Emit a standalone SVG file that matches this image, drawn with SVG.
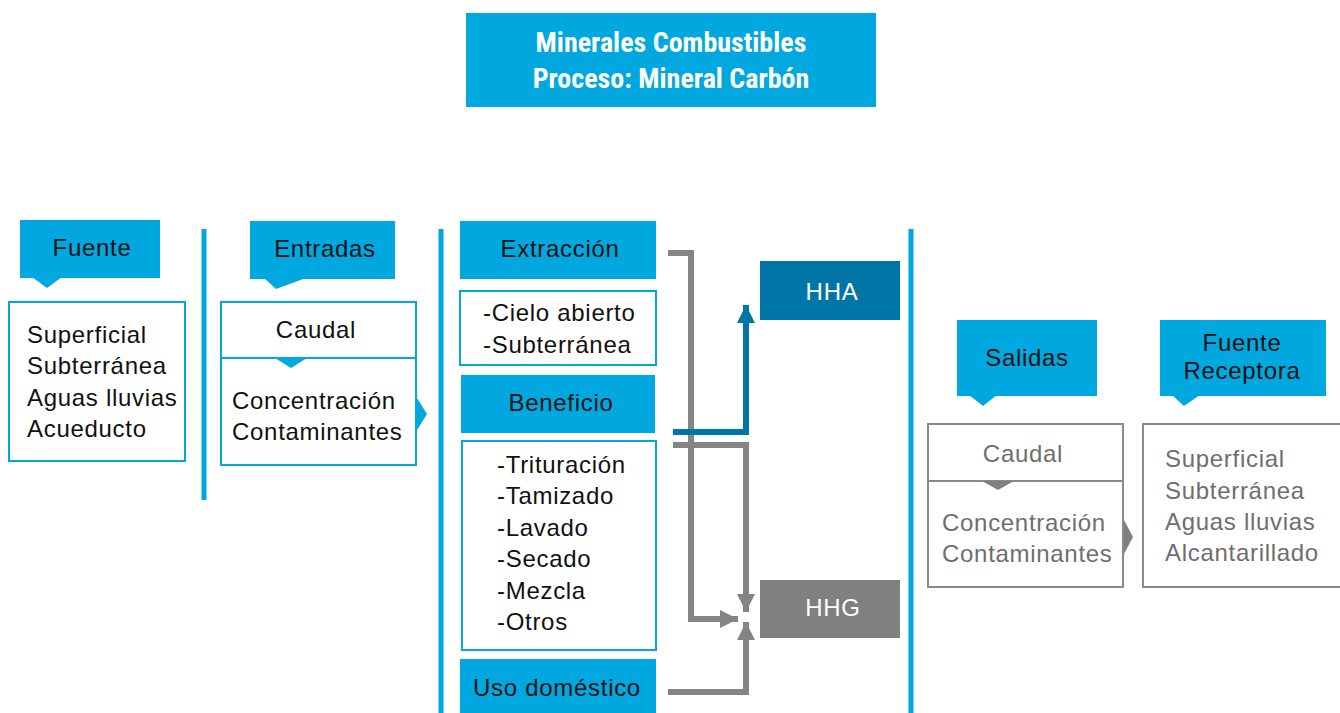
<svg xmlns="http://www.w3.org/2000/svg" width="1340" height="713" viewBox="0 0 1340 713">
<style>
.tab{fill:#00a8df}
.t{font-family:"Liberation Sans",Arial,sans-serif;font-size:24px;fill:#111;letter-spacing:0.7px}
.tc{text-anchor:middle}
.w{fill:#fff}
.g{fill:#6e6e6e}
.bx{fill:#fff;stroke:#00a8df;stroke-width:2}
.gx{fill:#fff;stroke:#8a8a8a;stroke-width:2}
.vl{stroke:#00a8df;stroke-width:5}
.cg{fill:none;stroke:#848484;stroke-width:6}
.cb{fill:none;stroke:#0076a8;stroke-width:6}
.title{font-family:"Liberation Sans Narrow","Roboto Condensed","Liberation Sans",sans-serif;font-weight:bold;font-size:28px;fill:#fff;text-anchor:middle}
</style>
<defs>
<marker id="ag" viewBox="0 0 10 10" refX="10" refY="5" markerWidth="3" markerHeight="3" orient="auto" markerUnits="strokeWidth"><path d="M0,0 L10,5 L0,10 z" fill="#848484"/></marker>
<marker id="ab" viewBox="0 0 10 10" refX="10" refY="5" markerWidth="3" markerHeight="3" orient="auto" markerUnits="strokeWidth"><path d="M0,0 L10,5 L0,10 z" fill="#0076a8"/></marker>
</defs>
<rect width="1340" height="713" fill="#fff"/>

<g id="title">
<rect x="466" y="13" width="410" height="94" class="tab"/>
<text x="671" y="52" class="title">Minerales Combustibles</text>
<text x="671" y="88" class="title">Proceso: Mineral Carbón</text>
</g>

<g id="dividers">
<line x1="204" y1="229" x2="204" y2="500" class="vl"/>
<line x1="441" y1="229" x2="441" y2="713" class="vl"/>
<line x1="911" y1="229" x2="911" y2="713" class="vl"/>
</g>

<g id="fuente-tab">
<rect x="20" y="220" width="140" height="58" class="tab"/>
<path d="M32,277 L62,277 L47,288 z" class="tab"/>
<text x="92" y="256" class="t tc">Fuente</text>
</g>
<g id="fuente-box">
<rect x="9" y="302" width="176" height="159" class="bx"/>
<text x="27" y="343" class="t">Superficial</text>
<text x="27" y="374" class="t">Subterránea</text>
<text x="27" y="406" class="t">Aguas lluvias</text>
<text x="27" y="437" class="t">Acueducto</text>
</g>

<g id="entradas-tab">
<rect x="250" y="221" width="145" height="58" class="tab"/>
<path d="M264,278 L306,278 L276,289 z" class="tab"/>
<text x="325" y="257" class="t tc">Entradas</text>
</g>
<g id="entradas-box">
<rect x="221" y="302" width="195" height="163" class="bx"/>
<line x1="221" y1="358" x2="416" y2="358" stroke="#00a8df" stroke-width="2"/>
<path d="M275,358 L307,358 L291,368 z" class="tab"/>
<path d="M417,398 L427,414 L417,430 z" class="tab"/>
<text x="316" y="338" class="t tc">Caudal</text>
<text x="232" y="409" class="t">Concentración</text>
<text x="232" y="440" class="t">Contaminantes</text>
</g>

<g id="extraccion">
<rect x="460" y="221" width="196" height="58" class="tab"/>
<text x="560" y="257" class="t tc">Extracción</text>
</g>
<g id="extraccion-list">
<rect x="460" y="291" width="196" height="74" class="bx"/>
<text x="483" y="321" class="t">-Cielo abierto</text>
<text x="483" y="353" class="t">-Subterránea</text>
</g>
<g id="beneficio">
<rect x="461" y="375" width="194" height="58" class="tab"/>
<text x="561" y="411" class="t tc">Beneficio</text>
</g>
<g id="beneficio-list">
<rect x="462" y="441" width="194" height="209" class="bx"/>
<text x="497" y="473" class="t">-Trituración</text>
<text x="497" y="504" class="t">-Tamizado</text>
<text x="497" y="536" class="t">-Lavado</text>
<text x="497" y="567" class="t">-Secado</text>
<text x="497" y="599" class="t">-Mezcla</text>
<text x="497" y="630" class="t">-Otros</text>
</g>
<g id="uso-domestico">
<rect x="460" y="659" width="196" height="54" class="tab"/>
<text x="557" y="696" class="t tc">Uso doméstico</text>
</g>

<g id="hha">
<rect x="760" y="261" width="140" height="59" fill="#0076a8"/>
<text x="832" y="300" class="t tc w">HHA</text>
</g>
<g id="hhg">
<rect x="760" y="580" width="140" height="58" fill="#808080"/>
<text x="833" y="616" class="t tc w">HHG</text>
</g>

<g id="connectors">
<path d="M668,253 L691,253 L691,619 L738,619" class="cg" marker-end="url(#ag)"/>
<path d="M673,445 L746,445 L746,612" class="cg" marker-end="url(#ag)"/>
<path d="M668,692 L746,692 L746,622" class="cg" marker-end="url(#ag)"/>
<path d="M673,432 L746,432 L746,305" class="cb" marker-end="url(#ab)"/>
</g>

<g id="salidas-tab">
<rect x="957" y="320" width="140" height="76" class="tab"/>
<path d="M969,395 L997,395 L983,406 z" class="tab"/>
<text x="1027" y="366" class="t tc">Salidas</text>
</g>
<g id="salidas-box">
<rect x="928" y="424" width="195" height="163" class="gx"/>
<line x1="928" y1="481" x2="1123" y2="481" stroke="#8a8a8a" stroke-width="2"/>
<path d="M982,481 L1014,481 L998,490 z" fill="#808080"/>
<path d="M1124,520 L1133,537 L1124,554 z" fill="#808080"/>
<text x="1023" y="462" class="t tc g">Caudal</text>
<text x="942" y="531" class="t g">Concentración</text>
<text x="942" y="562" class="t g">Contaminantes</text>
</g>

<g id="receptora-tab">
<rect x="1160" y="320" width="166" height="76" class="tab"/>
<path d="M1172,395 L1200,395 L1184,406 z" class="tab"/>
<text x="1242" y="351" class="t tc" font-size="21">Fuente</text>
<text x="1242" y="379" class="t tc" font-size="21">Receptora</text>
</g>
<g id="receptora-box">
<rect x="1143" y="424" width="205" height="163" class="gx"/>
<text x="1165" y="467" class="t g">Superficial</text>
<text x="1165" y="499" class="t g">Subterránea</text>
<text x="1165" y="530" class="t g">Aguas lluvias</text>
<text x="1165" y="561" class="t g">Alcantarillado</text>
</g>
</svg>
